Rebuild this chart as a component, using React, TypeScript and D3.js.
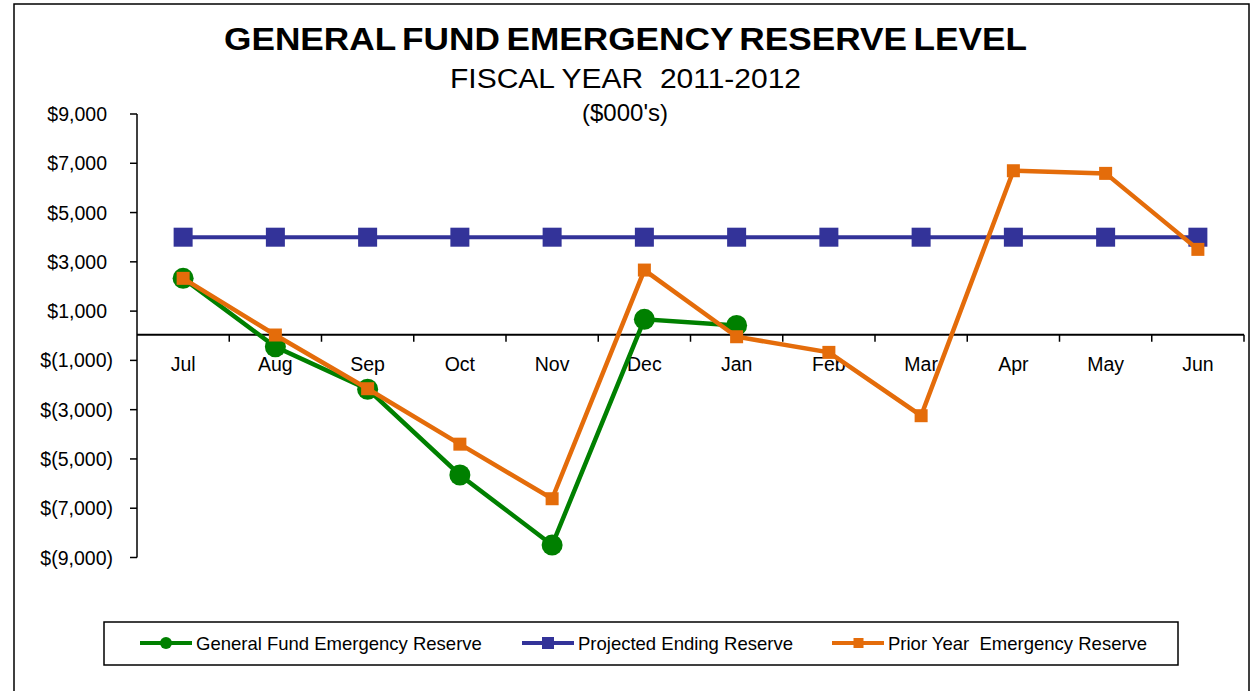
import React from "react";
import * as d3 from "d3";

const months = ["Jul", "Aug", "Sep", "Oct", "Nov", "Dec", "Jan", "Feb", "Mar", "Apr", "May", "Jun"];
const generalFund = [2330, -450, -2170, -5650, -8495, 665, 420];
const projected = [4000, 4000, 4000, 4000, 4000, 4000, 4000, 4000, 4000, 4000, 4000, 4000];
const priorYear = [2330, 30, -2150, -4400, -6615, 2666, -40, -675, -3245, 6697, 6590, 3506];
const yTicks = [9000, 7000, 5000, 3000, 1000, -1000, -3000, -5000, -7000, -9000];

const seriesNames = ["General Fund Emergency Reserve", "Projected Ending Reserve", "Prior Year  Emergency Reserve"];

const GREEN = "#008000";
const BLUE = "#333399";
const ORANGE = "#E46C0A";
const FONT = "'Liberation Sans', Arial, sans-serif";

const fmt = (v: number) => {
  const s = d3.format(",")(Math.abs(v));
  return v < 0 ? `$(${s})` : `$${s}`;
};

export default function App() {
  const W = 1254, H = 691;
  const x0 = 137, x1 = 1244;
  const x = d3.scaleBand<string>().domain(months).range([x0, x1]);
  const y = d3.scaleLinear().domain([-9000, 9000]).range([557.5, 114]);
  const cx = (m: string) => (x(m) as number) + x.bandwidth() / 2;
  const line = d3.line<[string, number]>().x((d) => cx(d[0])).y((d) => y(d[1]));

  const gfPts: [string, number][] = generalFund.map((v, i) => [months[i], v]);
  const pjPts: [string, number][] = projected.map((v, i) => [months[i], v]);
  const pyPts: [string, number][] = priorYear.map((v, i) => [months[i], v]);
  const zeroY = y(0);

  const legendY = 643;
  const legendItems = [
    { name: seriesNames[0], color: GREEN, lx: 140, marker: "circle" },
    { name: seriesNames[1], color: BLUE, lx: 522, marker: "bigsquare" },
    { name: seriesNames[2], color: ORANGE, lx: 832, marker: "square" },
  ];

  return (
    <svg width={W} height={H} style={{ position: "absolute", left: 0, top: 0, background: "#fff" }} fontFamily={FONT}>
      <rect x={0} y={0} width={W} height={H} fill="#fff" />
      <rect x={14} y={4} width={1235} height={720} fill="none" stroke="#000" strokeWidth={1.5} />

      {/* Titles */}
      <text x={625.5} y={50} textAnchor="middle" fontSize={32} fontWeight="bold" wordSpacing={-3} textLength={803} lengthAdjust="spacingAndGlyphs">
        GENERAL FUND EMERGENCY RESERVE LEVEL
      </text>
      <text x={625.5} y={88} textAnchor="middle" fontSize={27} style={{ whiteSpace: "pre" }} textLength={351} lengthAdjust="spacingAndGlyphs">
        {"FISCAL YEAR  2011-2012"}
      </text>
      <text x={625} y={121} textAnchor="middle" fontSize={24}>
        ($000's)
      </text>

      {/* Y axis */}
      <line x1={x0} x2={x0} y1={y(9000)} y2={y(-9000)} stroke="#000" strokeWidth={1.5} />
      {yTicks.map((t) => (
        <g key={t}>
          <line x1={x0 - 7} x2={x0} y1={y(t)} y2={y(t)} stroke="#000" strokeWidth={1.5} />
          <text x={t < 0 ? 113 : 107} y={y(t) + 7} textAnchor="end" fontSize={19.5}>
            {fmt(t)}
          </text>
        </g>
      ))}

      {/* X axis at zero */}
      <line x1={x0} x2={x1} y1={zeroY - 1} y2={zeroY - 1} stroke="#000" strokeWidth={2} />
      {months.map((m, i) => (
        <line key={"tk" + m} x1={x0 + (i + 1) * x.bandwidth()} x2={x0 + (i + 1) * x.bandwidth()} y1={zeroY - 1} y2={zeroY + 6} stroke="#000" strokeWidth={1.5} />
      ))}
      {months.map((m) => (
        <text key={"lb" + m} x={cx(m)} y={371} textAnchor="middle" fontSize={19.5}>
          {m}
        </text>
      ))}

      {/* Projected */}
      <path d={line(pjPts) || ""} fill="none" stroke={BLUE} strokeWidth={4} />
      {pjPts.map((d) => (
        <rect key={"pj" + d[0]} x={cx(d[0]) - 9.5} y={y(d[1]) - 9.5} width={19} height={19} fill={BLUE} />
      ))}

      {/* General fund */}
      <path d={line(gfPts) || ""} fill="none" stroke={GREEN} strokeWidth={4.5} />
      {gfPts.map((d) => (
        <circle key={"gf" + d[0]} cx={cx(d[0])} cy={y(d[1])} r={10.5} fill={GREEN} />
      ))}

      {/* Prior year */}
      <path d={line(pyPts) || ""} fill="none" stroke={ORANGE} strokeWidth={4.5} />
      {pyPts.map((d) => (
        <rect key={"py" + d[0]} x={cx(d[0]) - 6.5} y={y(d[1]) - 6.5} width={13} height={13} fill={ORANGE} />
      ))}

      {/* Legend */}
      <rect x={104} y={622} width={1074} height={43} fill="#fff" stroke="#000" strokeWidth={1.5} />
      {legendItems.map((it) => (
        <g key={it.name}>
          <line x1={it.lx} x2={it.lx + 52} y1={legendY} y2={legendY} stroke={it.color} strokeWidth={4} />
          {it.marker === "circle" && <circle cx={it.lx + 26} cy={legendY} r={6} fill={it.color} />}
          {it.marker === "bigsquare" && <rect x={it.lx + 20} y={legendY - 6} width={12} height={12} fill={it.color} />}
          {it.marker === "square" && <rect x={it.lx + 21.5} y={legendY - 5} width={10} height={10} fill={it.color} />}
          <text x={it.lx + 56} y={legendY + 6.5} fontSize={18.5} style={{ whiteSpace: "pre" }}>
            {it.name}
          </text>
        </g>
      ))}
    </svg>
  );
}
